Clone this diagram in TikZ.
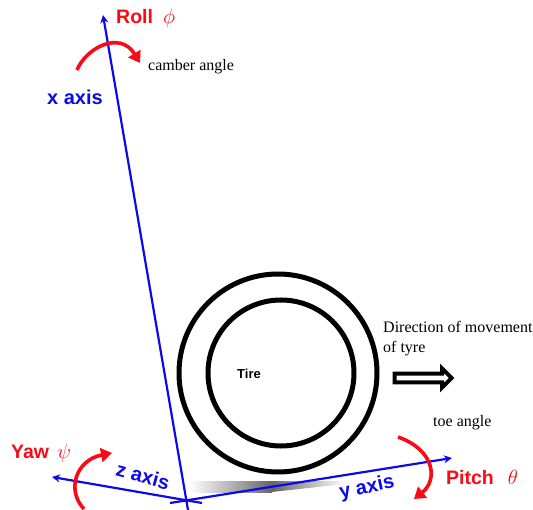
\documentclass[tikz,border=0pt]{standalone}
\usepackage{amsfonts,amsmath,amssymb}
\usepackage{xcolor}
\usepackage{fontspec}
\setmainfont{Liberation Serif}
\setsansfont{Liberation Sans}
\usetikzlibrary{arrows.meta,shapes,positioning,calc}
\definecolor{axisblue}{RGB}{10,10,235}
\definecolor{turnred}{RGB}{250,10,20}
\tikzset{
  axisline/.style={axisblue,line width=2.2pt},
  turnarc/.style={turnred,line width=3.6pt,-{Triangle[length=11pt,width=14pt]}},
  axislabel/.style={axisblue,font=\fontsize{20}{22}\selectfont\sffamily\bfseries,inner sep=0pt},
  turnlabel/.style={turnred,font=\fontsize{19.5}{22}\selectfont\sffamily\bfseries,inner sep=0pt},
  note/.style={font=\fontsize{16}{20}\selectfont,inner sep=0pt,align=left},
  tirering/.style={circle,draw,line width=5pt,inner sep=0pt},
}
\begin{document}
\begin{tikzpicture}[x=1pt,y=-1pt,>={Stealth[length=8pt,width=8pt]}]
\useasboundingbox (0,0) rectangle (533,510);
% axes meet here
\coordinate (origin) at (186,499);
\coordinate (xtip) at (103,15);
\coordinate (xtail) at (188,510);
\coordinate (ztip) at (52,477);
\coordinate (ztail) at (202,503);
\coordinate (ytip) at (452,458);
\coordinate (ytail) at (170,503);
% shadow under the tire
\shade[left color=white,right color=black!60] (190,481) rectangle (272,492);
\shade[left color=black!60,right color=white] (272,481) -- (345,481) -- (345,484) -- (272,492) -- cycle;
% tire
\node[tirering,minimum size=198pt] (outerring) at (278,373) {};
\node[tirering,minimum size=146pt] (innerring) at (281,373) {};
\node[font=\fontsize{13}{15}\selectfont\sffamily\bfseries,inner sep=0pt] (tirelabel) at (249,374) {Tire};
% axes
\draw[axisline,->](xtail)--(xtip);
\draw[axisline,->](ztail)--(ztip);
\draw[axisline,->](ytail)--(ytip);
\node[axislabel] (xlabel) at (75,97) {x axis};
\node[axislabel,rotate=-15] (zlabel) at (143,476) {z axis};
\node[axislabel,rotate=12] (ylabel) at (367,488) {y axis};
% rotations
\draw[turnarc](77,70) .. controls (86,48) and (120,30) .. (140,63);
\draw[turnarc](84,509) .. controls (66,490) and (76,460) .. (112,453);
\draw[turnarc](398,437) .. controls (435,450) and (438,480) .. (414,499);
\node[turnlabel,anchor=west] (rolllabel) at (116,18) {Roll\hspace{10pt}$\phi$};
\node[turnlabel,anchor=west] (yawlabel) at (11,453) {Yaw\hspace{8pt}$\psi$};
\node[turnlabel,anchor=west] (pitchlabel) at (446,477) {Pitch\hspace{14pt}$\theta$};
% notes
\node[note,anchor=west] (camber) at (148,67) {camber angle};
\node[note,anchor=west] (toe) at (433,423) {toe angle};
\node[note,anchor=north west] (direction) at (383,321) {Direction of movement\\of tyre};
\node[single arrow,draw,line width=4pt,fill=white,minimum height=57pt,minimum width=19pt,single arrow head extend=3pt,inner sep=0.5pt] (movearrow) at (421,378) {};
\end{tikzpicture}
\end{document}
